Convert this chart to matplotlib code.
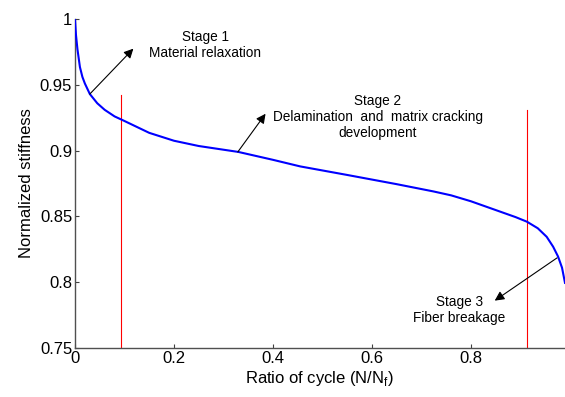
import matplotlib
matplotlib.use("Agg")
import matplotlib.pyplot as plt

# curve
ratio = [0, 0.002, 0.005, 0.01, 0.015, 0.02, 0.03, 0.045, 0.06, 0.08, 0.1, 0.125,
         0.15, 0.2, 0.25, 0.33, 0.4, 0.455, 0.55, 0.65, 0.724, 0.76, 0.8, 0.86,
         0.89, 0.913, 0.935, 0.953, 0.966, 0.976, 0.984, 0.99]
stiffness = [1.0, 0.988, 0.977, 0.9635, 0.956, 0.951, 0.943, 0.936, 0.931, 0.926,
             0.9225, 0.918, 0.9135, 0.9075, 0.9035, 0.899, 0.893, 0.888, 0.8815,
             0.8745, 0.869, 0.866, 0.8615, 0.8535, 0.8495, 0.846, 0.841, 0.8345,
             0.827, 0.8195, 0.811, 0.7995]

# stage boundaries (x, top of line)
bounds_x = [0.093, 0.913]
bounds_top = [0.942, 0.931]

# annotations: text, text position, arrow tail, arrow head
stage_text = ["Stage 1\nMaterial relaxation",
              "Stage 2\nDelamination  and  matrix cracking\ndevelopment",
              "Stage 3\nFiber breakage"]
text_xy = [(0.263, 0.9805), (0.612, 0.9255), (0.776, 0.779)]
tail_xy = [(0.030, 0.943), (0.329, 0.899), (0.974, 0.8185)]
head_xy = [(0.118, 0.9775), (0.385, 0.928), (0.848, 0.786)]

plt.rcParams['font.family'] = ['Liberation Sans', 'DejaVu Sans']
plt.rcParams['mathtext.fontset'] = 'custom'
plt.rcParams['mathtext.rm'] = 'Liberation Sans'

fig = plt.figure(figsize=(5.65, 3.97), dpi=100)
ax = fig.add_axes([0.1327, 0.1234, 0.8673, 0.8287])

ax.plot(ratio, stiffness, color="#0000ff", lw=1.5, zorder=3)
for bx, bt in zip(bounds_x, bounds_top):
    ax.plot([bx, bx], [0.75, bt], color="#ff0000", lw=0.8, zorder=2)

for txt, (tx, ty), tl, hd in zip(stage_text, text_xy, tail_xy, head_xy):
    ax.text(tx, ty, txt, ha="center", va="center", fontsize=9.8, linespacing=1.2)
    ax.annotate("", xy=hd, xytext=tl,
                arrowprops=dict(arrowstyle="-|>", color="black", lw=0.8,
                                mutation_scale=14, shrinkA=0, shrinkB=0))

ax.set_xlim(0, 0.99)
ax.set_ylim(0.75, 1.0)
ax.set_xticks([0, 0.2, 0.4, 0.6, 0.8])
ax.set_xticklabels(["0", "0.2", "0.4", "0.6", "0.8"])
ax.set_yticks([0.75, 0.8, 0.85, 0.9, 0.95, 1.0])
ax.set_yticklabels(["0.75", "0.8", "0.85", "0.9", "0.95", "1"])
ax.tick_params(direction="in", length=3, width=0.8, colors="#404040",
               labelcolor="black", labelsize=12, pad=2)

for side in ["top", "right"]:
    ax.spines[side].set_visible(False)
for side in ["left", "bottom"]:
    ax.spines[side].set_color("#505050")
    ax.spines[side].set_linewidth(1.0)

ax.set_xlabel("Ratio of cycle (N/N$_\\mathregular{f}$)", fontsize=12, labelpad=2)
ax.set_ylabel("Normalized stiffness", fontsize=12, labelpad=4)

fig.savefig("out.png", dpi=100)
